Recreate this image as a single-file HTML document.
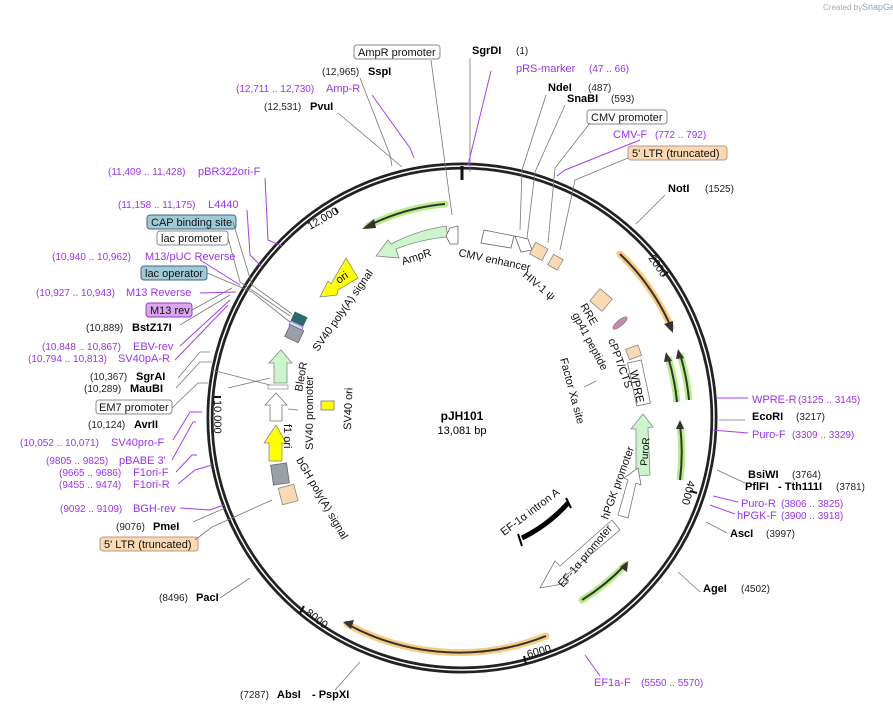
<!DOCTYPE html>
<html><head><meta charset="utf-8"><style>
html,body{margin:0;padding:0;background:#fff;}
svg{display:block;font-family:"Liberation Sans",sans-serif;}
.b{font-weight:bold;font-size:11px;fill:#000}
.n{font-size:10px;fill:#222}
.p{font-size:11px;fill:#9933ee}
.pn{font-size:10px;fill:#9933ee}
.f{font-size:11px;fill:#111}
.ll{stroke:#777;stroke-width:0.8;fill:none}
.pl{stroke:#a33ff0;stroke-width:1;fill:none}
</style></head><body>
<svg width="893" height="712" viewBox="0 0 893 712">
<text x="823" y="10" font-size="8" fill="#aaa">Created by</text><text x="862" y="10" font-size="9" fill="#8ab">SnapGene</text>
<circle cx="462" cy="418" r="252" fill="none" stroke="#222" stroke-width="7"/>
<circle cx="462" cy="418" r="252" fill="none" stroke="#fff" stroke-width="1.5"/>
<line x1="462" y1="166" x2="462" y2="180" stroke="#111" stroke-width="3"/>
<line x1="338" y1="213" x2="335" y2="208" stroke="#111" stroke-width="2"/>
<text class="f" transform="translate(310,230) rotate(-30)">12,000</text>
<line x1="668" y1="272" x2="663" y2="276" stroke="#111" stroke-width="2"/>
<text class="f" transform="translate(648,258) rotate(55)">2000</text>
<line x1="697" y1="493" x2="690" y2="491" stroke="#111" stroke-width="2"/>
<text class="f" transform="translate(688,480) rotate(105)">4000</text>
<line x1="526" y1="664" x2="524" y2="656" stroke="#111" stroke-width="2"/>
<text class="f" transform="translate(528,658) rotate(-15)">6000</text>
<line x1="300" y1="613" x2="304" y2="606" stroke="#111" stroke-width="2"/>
<text class="f" transform="translate(305,614) rotate(38)">8000</text>
<line x1="214" y1="397" x2="221" y2="397" stroke="#111" stroke-width="2"/>
<text class="f" transform="translate(214,400) rotate(90)">10,000</text>
<path d="M445,204 A215,215 0 0 0 368,226" fill="none" stroke="#b8ee88" stroke-width="7" stroke-linecap="round"/>
<path d="M445,204 A215,215 0 0 0 368,226" fill="none" stroke="#333" stroke-width="2"/>
<polygon points="362,229 374,219 376,228" fill="#333"/>
<path d="M620,254 A228,228 0 0 1 671,327" fill="none" stroke="#f8cc80" stroke-width="7" stroke-linecap="round"/>
<path d="M620,254 A228,228 0 0 1 671,327" fill="none" stroke="#333" stroke-width="2"/>
<polygon points="673,333 664,324 673,321" fill="#333"/>
<path d="M546,636 A235,235 0 0 1 347,624" fill="none" stroke="#f8cc80" stroke-width="7" stroke-linecap="round"/>
<path d="M546,636 A235,235 0 0 1 347,624" fill="none" stroke="#333" stroke-width="2"/>
<polygon points="343,622 354,620 351,629" fill="#333"/>
<path d="M582,600 A218,218 0 0 0 625,565" fill="none" stroke="#b8ee88" stroke-width="7" stroke-linecap="round"/>
<path d="M582,600 A218,218 0 0 0 625,565" fill="none" stroke="#333" stroke-width="2"/>
<polygon points="628,561 627,572 620,567" fill="#333"/>
<path d="M677,402 A225,225 0 0 0 668,357" fill="none" stroke="#b8ee88" stroke-width="7"/>
<path d="M677,402 A225,225 0 0 0 668,357" fill="none" stroke="#333" stroke-width="2"/>
<polygon points="666,352 672,361 664,362" fill="#333"/>
<path d="M689,400 A230,230 0 0 0 680,354" fill="none" stroke="#b8ee88" stroke-width="7"/>
<path d="M689,400 A230,230 0 0 0 680,354" fill="none" stroke="#333" stroke-width="2"/>
<polygon points="678,349 684,358 676,359" fill="#333"/>
<path d="M680,480 A218,218 0 0 0 680,425" fill="none" stroke="#b8ee88" stroke-width="7"/>
<path d="M680,480 A218,218 0 0 0 680,425" fill="none" stroke="#333" stroke-width="2"/>
<polygon points="680,420 684,429 676,429" fill="#333"/>
<path d="M448,237 A182,182 0 0 0 396,249 L399,258 L376,256 L388,240 L391,244 A175,175 0 0 1 446,226 Z" fill="#ccf5cc" stroke="#888" stroke-width="0.8"/>
<path d="M450,228 L458,226 L458,244 L450,244 L446,236 Z" fill="#fff" stroke="#666" stroke-width="0.8"/>
<path d="M484,230 L514,236 L511,248 L481,243 Z" fill="#fff" stroke="#666" stroke-width="0.8"/>
<path d="M515,236 L528,239 L532,250 L521,252 Z" fill="#fff" stroke="#666" stroke-width="0.8"/>
<polygon points="346,258 358,278 338,290 337,295 320,297 328,281 331,284" fill="#ffff00" stroke="#888" stroke-width="0.8"/>
<text font-size="11" transform="translate(339,284) rotate(-35)">ori</text>
<rect x="532" y="245" width="14" height="13" fill="#fbd9b3" stroke="#888" stroke-width="0.8" transform="rotate(28 539 251)"/>
<rect x="550" y="256" width="11" height="12" fill="#fbd9b3" stroke="#888" stroke-width="0.8" transform="rotate(30 555 262)"/>
<rect x="593" y="292" width="16" height="16" fill="#fbd9b3" stroke="#888" stroke-width="0.8" transform="rotate(40 601 300)"/>
<ellipse cx="620" cy="323" rx="9" ry="3" fill="#c78aad" stroke="#777" stroke-width="0.6" transform="rotate(-40 620 323)"/>
<rect x="627" y="347" width="13" height="11" fill="#fbd9b3" stroke="#888" stroke-width="0.8" transform="rotate(-20 633 352)"/>
<rect x="632" y="361" width="14" height="44" fill="#fff" stroke="#777" stroke-width="0.8" transform="rotate(-12 639 383)"/>
<text font-size="11" transform="translate(630,371) rotate(78)">WPRE</text>
<polygon points="636,476 636,429 631,429 643,414 653,427 648,428 650,475" fill="#ccf5cc" stroke="#888" stroke-width="0.8"/>
<text font-size="10" transform="translate(647,466) rotate(-85)">PuroR</text>
<polygon points="618,515 628,480 624,478 638,468 641,485 636,483 628,518" fill="#fff" stroke="#777" stroke-width="0.8"/>
<polygon points="612,520 560,566 555,561 540,588 568,583 563,578 620,530" fill="#fff" stroke="#777" stroke-width="0.8"/>
<path d="M568,503 A150,150 0 0 1 522,538" fill="none" stroke="#000" stroke-width="5"/>
<line x1="566" y1="498" x2="571" y2="508" stroke="#000" stroke-width="2"/>
<line x1="518" y1="534" x2="522" y2="546" stroke="#000" stroke-width="2"/>
<rect x="292" y="314" width="14" height="10" fill="#2a6a6a" transform="rotate(25 299 319)"/>
<rect x="289" y="324" width="14" height="4" fill="#cde" stroke="#a3f" stroke-width="0.6" transform="rotate(25 296 326)"/>
<rect x="287" y="327" width="15" height="13" fill="#9aa0a6" stroke="#666" stroke-width="0.8" transform="rotate(25 294 333)"/>
<polygon points="274,383 274,363 269,363 281,350 292,363 287,363 287,383" fill="#ccf5cc" stroke="#888" stroke-width="0.8"/>
<rect x="268" y="385" width="20" height="4" fill="#fff" stroke="#777" stroke-width="0.6"/>
<polygon points="270,421 270,405 265,405 276,393 287,405 282,405 282,421" fill="#fff" stroke="#777" stroke-width="0.8"/>
<polygon points="269,461 269,443 264,443 276,425 286,443 282,443 282,461" fill="#ffff00" stroke="#888" stroke-width="0.8"/>
<rect x="272" y="464" width="16" height="20" fill="#9aa0a6" stroke="#666" stroke-width="0.8" transform="rotate(-8 280 474)"/>
<rect x="280" y="486" width="16" height="17" fill="#fbd9b3" stroke="#888" stroke-width="0.8" transform="rotate(-15 288 494)"/>
<rect x="321" y="401" width="13" height="9" fill="#ffff00" stroke="#777" stroke-width="0.8"/>
<text class="f" transform="translate(403,265) rotate(-18)">AmpR</text>
<text class="f" transform="translate(458,256) rotate(12)">CMV enhancer</text>
<text class="f" transform="translate(522,276) rotate(40)">HIV-1 ψ</text>
<text class="f" transform="translate(580,306) rotate(60)">RRE</text>
<text class="f" transform="translate(572,315) rotate(62)">gp41 peptide</text>
<text class="f" transform="translate(608,340) rotate(70)">cPPT/CTS</text>
<text class="f" transform="translate(560,359) rotate(75)">Factor Xa site</text>
<text class="f" transform="translate(318,352) rotate(-55)">SV40 poly(A) signal</text>
<text class="f" transform="translate(302,392) rotate(-80)">BleoR</text>
<text class="f" transform="translate(313,450) rotate(-90)">SV40 promoter</text>
<text class="f" transform="translate(284,424) rotate(90)">f1 ori</text>
<text class="f" transform="translate(351,430) rotate(-88)">SV40 ori</text>
<text class="f" transform="translate(296,460) rotate(60)">bGH poly(A) signal</text>
<text class="f" transform="translate(608,520) rotate(-70)">hPGK promoter</text>
<text class="f" transform="translate(563,588) rotate(-50)">EF-1α promoter</text>
<text class="f" transform="translate(504,536) rotate(-37)">EF-1α intron A</text>
<line x1="584" y1="387" x2="596" y2="381" class="ll"/>
<text x="462" y="420" text-anchor="middle" font-weight="bold" font-size="12">pJH101</text>
<text x="462" y="434" text-anchor="middle" font-size="11">13,081 bp</text>
<rect x="354" y="45" width="86" height="14" rx="3" fill="#fff" stroke="#888"/>
<text class="f" x="358" y="56">AmpR promoter</text>
<text class="b" x="472" y="54">SgrDI</text><text class="n" x="516" y="54">(1)</text>
<text class="n" x="322" y="75">(12,965)</text><text class="b" x="368" y="75">SspI</text>
<text class="p" x="516" y="72">pRS-marker</text><text class="pn" x="589" y="72">(47 .. 66)</text>
<text class="pn" x="236" y="92">(12,711 .. 12,730)</text><text class="p" x="326" y="92">Amp-R</text>
<text class="b" x="548" y="91">NdeI</text><text class="n" x="588" y="91">(487)</text>
<text class="b" x="567" y="102">SnaBI</text><text class="n" x="611" y="102">(593)</text>
<text class="n" x="264" y="110">(12,531)</text><text class="b" x="310" y="110">PvuI</text>
<rect x="587" y="110" width="80" height="14" rx="3" fill="#fff" stroke="#888"/>
<text class="f" x="591" y="121">CMV promoter</text>
<text class="p" x="613" y="138">CMV-F</text><text class="pn" x="655" y="138">(772 .. 792)</text>
<rect x="628" y="146" width="99" height="14" rx="3" fill="#fbd9b3" stroke="#b98"/>
<text class="f" x="632" y="157">5' LTR (truncated)</text>
<text class="pn" x="108" y="175">(11,409 .. 11,428)</text><text class="p" x="198" y="175">pBR322ori-F</text>
<text class="b" x="668" y="192">NotI</text><text class="n" x="705" y="192">(1525)</text>
<text class="pn" x="118" y="208">(11,158 .. 11,175)</text><text class="p" x="208" y="208">L4440</text>
<rect x="147" y="215" width="89" height="14" rx="3" fill="#9fcbd6" stroke="#468"/>
<text class="f" x="151" y="226">CAP binding site</text>
<rect x="157" y="231" width="71" height="14" rx="3" fill="#fff" stroke="#888"/>
<text class="f" x="161" y="242">lac promoter</text>
<text class="pn" x="52" y="260">(10,940 .. 10,962)</text><text class="p" x="145" y="260">M13/pUC Reverse</text>
<rect x="141" y="266" width="66" height="14" rx="3" fill="#9fcbd6" stroke="#468"/>
<text class="f" x="145" y="277">lac operator</text>
<text class="pn" x="36" y="296">(10,927 .. 10,943)</text><text class="p" x="126" y="296">M13 Reverse</text>
<rect x="146" y="303" width="46" height="14" rx="3" fill="#d9a8f0" stroke="#93c"/>
<text class="f" x="150" y="314">M13 rev</text>
<text class="n" x="86" y="331">(10,889)</text><text class="b" x="132" y="331">BstZ17I</text>
<text class="pn" x="42" y="350">(10,848 .. 10,867)</text><text class="p" x="133" y="350">EBV-rev</text>
<text class="pn" x="28" y="362">(10,794 .. 10,813)</text><text class="p" x="118" y="362">SV40pA-R</text>
<text class="n" x="90" y="380">(10,367)</text><text class="b" x="136" y="380">SgrAI</text>
<text class="n" x="84" y="392">(10,289)</text><text class="b" x="130" y="392">MauBI</text>
<rect x="96" y="400" width="76" height="14" rx="3" fill="#fff" stroke="#888"/>
<text class="f" x="99" y="411">EM7 promoter</text>
<text class="n" x="88" y="428">(10,124)</text><text class="b" x="134" y="428">AvrII</text>
<text class="pn" x="20" y="446">(10,052 .. 10,071)</text><text class="p" x="111" y="446">SV40pro-F</text>
<text class="pn" x="46" y="464">(9805 .. 9825)</text><text class="p" x="119" y="464">pBABE 3'</text>
<text class="pn" x="59" y="476">(9665 .. 9686)</text><text class="p" x="133" y="476">F1ori-F</text>
<text class="pn" x="59" y="488">(9455 .. 9474)</text><text class="p" x="133" y="488">F1ori-R</text>
<text class="pn" x="60" y="512">(9092 .. 9109)</text><text class="p" x="133" y="512">BGH-rev</text>
<text class="n" x="116" y="530">(9076)</text><text class="b" x="153" y="530">PmeI</text>
<rect x="100" y="537" width="98" height="14" rx="3" fill="#fbd9b3" stroke="#b98"/>
<text class="f" x="104" y="548">5' LTR (truncated)</text>
<text class="n" x="159" y="601">(8496)</text><text class="b" x="196" y="601">PacI</text>
<text class="n" x="240" y="698">(7287)</text><text class="b" x="277" y="698">AbsI</text><text class="b" x="312" y="698">- PspXI</text>
<text class="p" x="752" y="403">WPRE-R</text><text class="pn" x="798" y="403">(3125 .. 3145)</text>
<text class="b" x="752" y="420">EcoRI</text><text class="n" x="796" y="420">(3217)</text>
<text class="p" x="752" y="438">Puro-F</text><text class="pn" x="792" y="438">(3309 .. 3329)</text>
<text class="b" x="748" y="478">BsiWI</text><text class="n" x="792" y="478">(3764)</text>
<text class="b" x="745" y="490">PflFI</text><text class="b" x="778" y="490">- Tth111I</text><text class="n" x="836" y="490">(3781)</text>
<text class="p" x="741" y="507">Puro-R</text><text class="pn" x="781" y="507">(3806 .. 3825)</text>
<text class="p" x="737" y="519">hPGK-F</text><text class="pn" x="781" y="519">(3900 .. 3918)</text>
<text class="b" x="730" y="537">AscI</text><text class="n" x="766" y="537">(3997)</text>
<text class="b" x="703" y="592">AgeI</text><text class="n" x="741" y="592">(4502)</text>
<text class="p" x="594" y="686">EF1a-F</text><text class="pn" x="641" y="686">(5550 .. 5570)</text>
<path class="ll" d="M431,60 L452,215"/><path class="ll" d="M470,58 L470,172"/>
<path class="ll" d="M360,78 L390,155 L392,166"/><path class="ll" d="M338,113 L402,167"/>
<path class="ll" d="M546,95 L522,170 L520,230"/><path class="ll" d="M565,105 L535,172 L527,238"/>
<path class="ll" d="M590,123 L555,168 L548,243"/><path class="ll" d="M628,158 L575,180 L560,250"/>
<path class="ll" d="M665,195 L636,224"/><path class="ll" d="M700,592 L678,572"/>
<path class="ll" d="M745,420 L719,420"/><path class="ll" d="M745,483 L717,470"/><path class="ll" d="M727,533 L706,522"/>
<path class="ll" d="M220,598 L250,578"/><path class="ll" d="M335,690 L360,662"/>
<path class="ll" d="M228,238 L240,282 L290,316"/><path class="ll" d="M233,222 L252,285 L292,314"/>
<path class="ll" d="M207,273 L252,292 L290,322"/><path class="ll" d="M192,310 L232,288"/>
<path class="ll" d="M180,325 L230,295"/><path class="ll" d="M178,378 L200,352 L210,352"/>
<path class="ll" d="M176,388 L200,362 L212,362"/><path class="ll" d="M212,370 L270,385"/>
<path class="ll" d="M172,408 L198,383 L208,383"/><path class="ll" d="M195,540 L212,527 L272,500"/>
<path class="ll" d="M193,522 L225,508"/>
<path class="ll" d="M228,388 L270,378"/><path class="ll" d="M288,409 L298,410"/>
<path class="pl" d="M491,71 L468,165"/><path class="pl" d="M372,95 L410,148 L414,158"/>
<path class="pl" d="M640,140 L565,170 L557,176"/><path class="pl" d="M265,178 L268,240 L282,246"/>
<path class="pl" d="M247,210 L250,255 L262,267"/><path class="pl" d="M200,260 L240,285"/>
<path class="pl" d="M200,293 L236,292"/><path class="pl" d="M180,346 L230,300"/>
<path class="pl" d="M175,360 L228,305"/><path class="pl" d="M173,440 L190,412 L202,412"/>
<path class="pl" d="M172,460 L193,422 L196,422"/><path class="pl" d="M176,472 L192,455 L197,455"/>
<path class="pl" d="M178,484 L195,470 L212,465"/><path class="pl" d="M180,508 L210,510 L224,505"/>
<path class="pl" d="M748,398 L716,398"/><path class="pl" d="M748,433 L712,430"/>
<path class="pl" d="M738,502 L713,496"/><path class="pl" d="M735,514 L710,505"/>
<path class="pl" d="M600,676 L585,655"/>
</svg>
</body></html>
